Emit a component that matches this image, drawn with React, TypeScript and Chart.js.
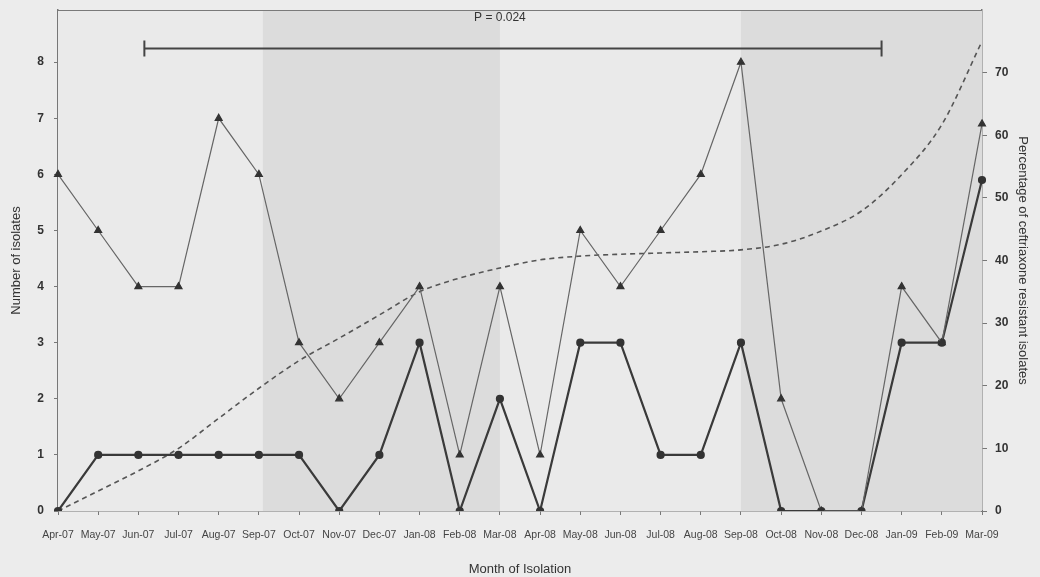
import React, { useEffect, useRef } from "react";
import { Chart, registerables } from "chart.js";

Chart.register(...registerables);

const months = [
  "Apr-07", "May-07", "Jun-07", "Jul-07", "Aug-07", "Sep-07", "Oct-07", "Nov-07",
  "Dec-07", "Jan-08", "Feb-08", "Mar-08", "Apr-08", "May-08", "Jun-08", "Jul-08",
  "Aug-08", "Sep-08", "Oct-08", "Nov-08", "Dec-08", "Jan-09", "Feb-09", "Mar-09",
];
const totalIsolates = [6, 5, 4, 4, 7, 6, 3, 2, 3, 4, 1, 4, 1, 5, 4, 5, 6, 8, 2, 0, 0, 4, 3, 6.9];
const resistantIsolates = [0, 1, 1, 1, 1, 1, 1, 0, 1, 3, 0, 2, 0, 3, 3, 1, 1, 3, 0, 0, 0, 3, 3, 5.9];
const resistantPercentTrend = [
  0, 3.2, 6.4, 10, 14.8, 19.6, 24, 27.6, 31.3, 35, 37.2, 38.8,
  40.1, 40.7, 41, 41.2, 41.4, 41.7, 42.6, 44.7, 47.9, 53.7, 61.7, 75,
];
const leftTicks = [0, 1, 2, 3, 4, 5, 6, 7, 8];
const rightTicks = [0, 10, 20, 30, 40, 50, 60, 70];
const shadedBands = [
  [5.1, 11],
  [17, 23],
];
const pBar = { from: 2.15, to: 20.5, level: 8.25, label: "P = 0.024", labelAt: 11, labelLevel: 8.8 };

const FONT = "'Liberation Sans', Arial, sans-serif";

const decorPlugin = {
  id: "decor",
  beforeDatasetsDraw(chart: any) {
    const { ctx, chartArea: a, scales } = chart;
    const x = scales.x;
    ctx.save();
    ctx.fillStyle = "#eaeaea";
    ctx.fillRect(a.left, a.top, a.right - a.left, a.bottom - a.top);
    ctx.fillStyle = "#dcdcdc";
    for (const [s, e] of shadedBands) {
      const x0 = x.getPixelForValue(s);
      const x1 = x.getPixelForValue(e);
      ctx.fillRect(x0, a.top, x1 - x0, a.bottom - a.top);
    }
    ctx.strokeStyle = "#7a7a7a";
    ctx.lineWidth = 1;
    ctx.beginPath();
    ctx.moveTo(a.left, a.top + 0.5);
    ctx.lineTo(a.right, a.top + 0.5);
    ctx.stroke();
    ctx.restore();
  },
  afterDatasetsDraw(chart: any) {
    const { ctx, scales } = chart;
    const x = scales.x;
    const y = scales.y;
    ctx.save();
    const x0 = x.getPixelForValue(pBar.from);
    const x1 = x.getPixelForValue(pBar.to);
    const yy = Math.round(y.getPixelForValue(pBar.level)) + 0.5;
    ctx.strokeStyle = "#444";
    ctx.lineWidth = 2;
    ctx.beginPath();
    ctx.moveTo(x0, yy);
    ctx.lineTo(x1, yy);
    ctx.moveTo(x0, yy - 8);
    ctx.lineTo(x0, yy + 8);
    ctx.moveTo(x1, yy - 8);
    ctx.lineTo(x1, yy + 8);
    ctx.stroke();
    ctx.fillStyle = "#333";
    ctx.font = `12px ${FONT}`;
    ctx.textAlign = "center";
    ctx.textBaseline = "middle";
    ctx.fillText(pBar.label, x.getPixelForValue(pBar.labelAt), y.getPixelForValue(pBar.labelLevel));
    ctx.restore();
  },
};

export default function App() {
  const ref = useRef<HTMLCanvasElement>(null);
  useEffect(() => {
    document.body.style.margin = "0";
    document.body.style.background = "#ececec";
    const chart = new Chart(ref.current!, {
      type: "line",
      data: {
        labels: months,
        datasets: [
          {
            label: "Total isolates",
            data: totalIsolates,
            yAxisID: "y",
            borderColor: "#666",
            borderWidth: 1.2,
            pointStyle: "triangle",
            pointRadius: 4,
            pointBackgroundColor: "#333",
            pointBorderColor: "#333",
            tension: 0,
          },
          {
            label: "Resistant isolates",
            data: resistantIsolates,
            yAxisID: "y",
            borderColor: "#3a3a3a",
            borderWidth: 2.2,
            pointStyle: "circle",
            pointRadius: 3,
            pointBackgroundColor: "#333",
            pointBorderColor: "#333",
            tension: 0,
          },
          {
            label: "Percentage resistant (trend)",
            data: resistantPercentTrend,
            yAxisID: "y2",
            borderColor: "#555",
            borderWidth: 1.6,
            borderDash: [5, 4],
            pointRadius: 0,
            cubicInterpolationMode: "monotone",
          },
        ],
      },
      options: {
        responsive: false,
        animation: false,
        layout: { padding: { top: 10, left: 0, right: 0, bottom: 0 } },
        plugins: { legend: { display: false }, tooltip: { enabled: false } },
        scales: {
          x: {
            type: "category",
            offset: false,
            grid: { drawOnChartArea: false, drawTicks: true, tickLength: 4, color: "#777" },
            border: { display: true, color: "#777", width: 1.5 },
            ticks: {
              autoSkip: false,
              maxRotation: 0,
              minRotation: 0,
              padding: 14,
              color: "#444",
              font: { family: FONT, size: 10.5 },
            },
            title: {
              display: true,
              text: "Month of Isolation",
              color: "#333",
              font: { family: FONT, size: 13 },
              padding: { top: 12, bottom: 0 },
            },
            afterFit: (s: any) => {
              s.height = 66;
              s.paddingLeft = 0;
              s.paddingRight = 0;
            },
          },
          y: {
            type: "linear",
            position: "left",
            min: 0,
            max: 8.93,
            afterBuildTicks: (s: any) => {
              s.ticks = leftTicks.map((v) => ({ value: v }));
            },
            grid: { drawOnChartArea: false, drawTicks: true, tickLength: 4, color: "#777" },
            border: { display: true, color: "#777", width: 1.5 },
            ticks: { color: "#333", padding: 10, font: { family: FONT, size: 12, weight: "bold" } },
            title: {
              display: true,
              text: "Number of isolates",
              color: "#333",
              font: { family: FONT, size: 13 },
              padding: { top: 9, bottom: 2 },
            },
            afterFit: (s: any) => {
              s.width = 58;
              s.paddingTop = 0;
              s.paddingBottom = 0;
            },
          },
          y2: {
            type: "linear",
            position: "right",
            min: 0,
            max: 80,
            afterBuildTicks: (s: any) => {
              s.ticks = rightTicks.map((v) => ({ value: v }));
            },
            grid: { drawOnChartArea: false, drawTicks: true, tickLength: 5, color: "#777" },
            border: { display: true, color: "#777", width: 1.5 },
            ticks: { color: "#333", padding: 8, font: { family: FONT, size: 12, weight: "bold" } },
            title: {
              display: true,
              text: "Percentage of ceftriaxone resistant isolates",
              color: "#333",
              font: { family: FONT, size: 13 },
              padding: { top: 10, bottom: 6 },
            },
            afterFit: (s: any) => {
              s.width = 58;
              s.paddingTop = 0;
              s.paddingBottom = 0;
            },
          },
        },
      },
      plugins: [decorPlugin],
    });
    return () => chart.destroy();
  }, []);
  return <canvas ref={ref} width={1040} height={577} style={{ display: "block" }} />;
}
